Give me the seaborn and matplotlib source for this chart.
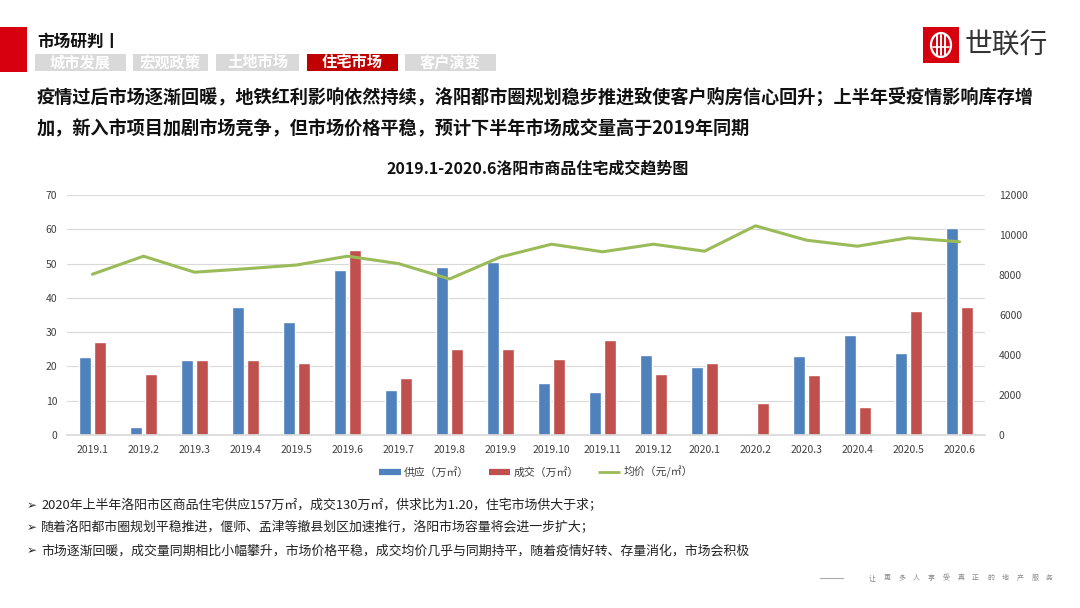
import numpy as np
import pandas as pd
import matplotlib
matplotlib.use("Agg")
import matplotlib.pyplot as plt
from matplotlib.patches import Rectangle, Ellipse
from matplotlib.lines import Line2D
import seaborn as sns

months = ["2019.1", "2019.2", "2019.3", "2019.4", "2019.5", "2019.6", "2019.7", "2019.8", "2019.9",
          "2019.10", "2019.11", "2019.12", "2020.1", "2020.2", "2020.3", "2020.4", "2020.5", "2020.6"]
supply = [22.8, 2.3, 21.8, 37.3, 33.1, 48.0, 13.2, 48.9, 50.5,
          15.2, 12.5, 23.4, 19.9, 0.0, 22.9, 29.2, 23.9, 60.5]
deals = [27.0, 17.8, 21.8, 22.0, 21.1, 53.9, 16.7, 25.0, 25.2,
         22.1, 27.8, 17.9, 21.0, 9.3, 17.6, 8.3, 36.2, 37.4]
price = [8040, 8940, 8140, 8310, 8500, 8940, 8570, 7800, 8900,
         9540, 9160, 9540, 9190, 10460, 9740, 9440, 9860, 9660]
series_names = ["供应（万㎡）", "成交（万㎡）", "均价（元/㎡）"]
left_ticks = [0, 10, 20, 30, 40, 50, 60, 70]
right_ticks = [0, 2000, 4000, 6000, 8000, 10000, 12000]

tabs = ["城市发展", "宏观政策", "土地市场", "住宅市场", "客户演变"]
headline = ["疫情过后市场逐渐回暖，地铁红利影响依然持续，洛阳都市圈规划稳步推进致使客户购房信心回升；上半年受疫情影响库存增",
            "加，新入市项目加剧市场竞争，但市场价格平稳，预计下半年市场成交量高于2019年同期"]
chart_title = "2019.1-2020.6洛阳市商品住宅成交趋势图"
bullets = ["2020年上半年洛阳市区商品住宅供应157万㎡，成交130万㎡，供求比为1.20，住宅市场供大于求；",
           "随着洛阳都市圈规划平稳推进，偃师、孟津等撤县划区加速推行，洛阳市场容量将会进一步扩大；",
           "市场逐渐回暖，成交量同期相比小幅攀升，市场价格平稳，成交均价几乎与同期持平，随着疫情好转、存量消化，市场会积极"]
footer = "让更多人享受真正的地产服务"

BLUE, RED, GREEN = "#4f81bd", "#c0504d", "#9bbb59"

sns.set_theme(style="white")
plt.rcParams["font.family"] = ["Noto Sans CJK SC", "DejaVu Sans"]

W, H = 1080, 608
fig = plt.figure(figsize=(W / 100, H / 100), dpi=100)
fig.patch.set_facecolor("white")

def fx(x): return x / W
def fy(y): return 1 - y / H

# ---- header ----
fig.patches.append(Rectangle((fx(0), fy(72)), fx(27), 45 / H, transform=fig.transFigure,
                             facecolor="#d7000f", edgecolor="none"))
fig.text(fx(37), fy(42), "市场研判丨", fontsize=12, fontweight="bold", color="#111111", va="center", ha="left")
tab_x = [(35, 126), (133, 208), (216, 299), (307, 398), (405, 496)]
for i, (t, (x0, x1)) in enumerate(zip(tabs, tab_x)):
    active = (i == 3)
    fig.patches.append(Rectangle((fx(x0), fy(71)), fx(x1 - x0), 17 / H, transform=fig.transFigure,
                                 facecolor="#c00000" if active else "#d9d9d9", edgecolor="none"))
    fig.text(fx((x0 + x1) / 2), fy(62.5), t, fontsize=11, fontweight="bold", color="white",
             ha="center", va="center")

# logo
fig.patches.append(Rectangle((fx(923), fy(63)), fx(36), 36 / H, transform=fig.transFigure,
                             facecolor="#d7000f", edgecolor="none"))
fig.patches.append(Ellipse((fx(941), fy(45)), fx(20), 24 / H, transform=fig.transFigure,
                           facecolor="none", edgecolor="white", linewidth=1.6))
for dx in (-4, 0, 4):
    fig.lines.append(Line2D([fx(941 + dx)] * 2, [fy(35), fy(55)], transform=fig.transFigure,
                            color="white", linewidth=1.4))
fig.lines.append(Line2D([fx(933), fx(949)], [fy(47), fy(47)], transform=fig.transFigure,
                        color="white", linewidth=1.2))
fig.text(fx(965), fy(45), "世联行", fontsize=20, color="#333333", ha="left", va="center")

# headline
fig.text(fx(37), fy(97), headline[0], fontsize=13.1, fontweight="bold", color="#111111", ha="left", va="center")
fig.text(fx(37), fy(129), headline[1], fontsize=13.1, fontweight="bold", color="#111111", ha="left", va="center")

# chart title
fig.text(fx(538), fy(169), chart_title, fontsize=11.5, fontweight="bold", color="#111111", ha="center", va="center")

# ---- chart ----
px0, px1, py0, py1 = 67, 985, 195, 435
ax = fig.add_axes([fx(px0), fy(py1), fx(px1 - px0), (py1 - py0) / H])
df = pd.DataFrame({
    "month": months * 2,
    "value": supply + deals,
    "series": [series_names[0]] * len(months) + [series_names[1]] * len(months),
})
sns.barplot(data=df, x="month", y="value", hue="series", order=months,
            palette=[BLUE, RED], width=0.58, gap=0.22, saturation=1, ax=ax, legend=False)
ax.set_xlim(-0.5, len(months) - 0.5)
ax.set_ylim(0, 70)
ax.set_yticks(left_ticks)
ax.yaxis.grid(True, color="#d9d9d9", linewidth=0.8)
ax.set_axisbelow(True)
ax.set_xlabel("")
ax.set_ylabel("")
for s in ["top", "right", "left"]:
    ax.spines[s].set_visible(False)
ax.spines["bottom"].set_color("#d9d9d9")
ax.tick_params(axis="both", length=0, labelsize=7.5, labelcolor="#404040")
ax.tick_params(axis="y", pad=7)
ax.tick_params(axis="x", pad=7)

ax2 = ax.twinx()
sns.lineplot(x=np.arange(len(months)), y=price, ax=ax2, color=GREEN, linewidth=2.2)
ax2.set_ylim(0, 12000)
ax2.set_yticks(right_ticks)
ax2.set_xlim(-0.5, len(months) - 0.5)
for s in ["top", "right", "left", "bottom"]:
    ax2.spines[s].set_visible(False)
ax2.tick_params(axis="y", length=0, labelsize=7.5, labelcolor="#404040", pad=10)
ax2.grid(False)

handles = [Line2D([0], [0], color=BLUE, linewidth=4.5, solid_capstyle="butt"),
           Line2D([0], [0], color=RED, linewidth=4.5, solid_capstyle="butt"),
           Line2D([0], [0], color=GREEN, linewidth=2, solid_capstyle="butt")]
fig.legend(handles, series_names, loc="center", bbox_to_anchor=(fx(536), fy(472)), ncol=3,
           frameon=False, fontsize=7.8, handlelength=2.0, handletextpad=0.3, columnspacing=1.8,
           labelcolor="#404040")

# bullets
for yb, b in zip([506, 528, 551], bullets):
    fig.text(fx(27), fy(yb), "➢", fontsize=8.5, fontweight="bold", color="#222222", ha="left", va="center",
             family=["DejaVu Sans"])
    fig.text(fx(41), fy(yb), b, fontsize=9.3, color="#222222", ha="left", va="center")

# footer
fig.lines.append(Line2D([fx(820), fx(843)], [fy(578), fy(578)], transform=fig.transFigure,
                        color="#aaaaaa", linewidth=0.8))
for i, ch in enumerate(footer):
    fig.text(fx(872 + i * 14.8), fy(578), ch, fontsize=5, color="#888888", ha="center", va="center")

fig.savefig("out.png", dpi=100, facecolor="white")
